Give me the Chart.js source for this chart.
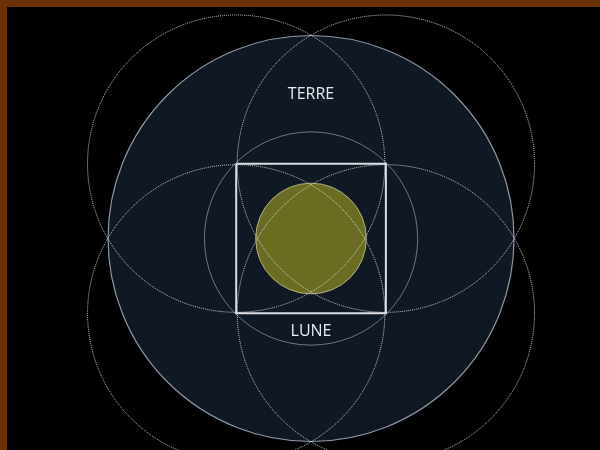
<!DOCTYPE html>
<html>
<head>
<meta charset="utf-8">
<script src="https://cdn.jsdelivr.net/npm/chart.js@4/dist/chart.umd.min.js"></script>
<style>
  html, body { margin: 0; padding: 0; background: #6b3305; overflow: hidden; }
  #wrap { position: absolute; left: 7px; top: 7px; width: 593px; height: 443px; background: #000; }
</style>
</head>
<body>
<div id="wrap"><canvas id="chart"></canvas></div>
<script>
(function () {
    'use strict';

    // radii in miles: Earth, Moon
    var bodyLabels = ['TERRE', 'LUNE'];
    var bodyRadii  = [3960, 1080];
    var labelY     = [2820, -1810];

    // square around the Moon and its circumscribed circle
    var squareX = [-1460, 1460, 1460, -1460, -1460];
    var squareY = [1460, 1460, -1460, -1460, 1460];
    var ringRadius = 2080;

    // four dotted circles centred on the square's corners
    var cornerX = [-1460, 1460, -1460, 1460];
    var cornerY = [1460, 1460, -1460, -1460];
    var cornerRadius = 2900;

    function pxRadius(ctx) {
        var s = ctx.chart.scales.x;
        var r = ctx.raw && ctx.raw.rad;
        if (!s || !r) return 0;
        return Math.abs(s.getPixelForValue(r) - s.getPixelForValue(0));
    }

    var dashPlugin = {
        id: 'dash',
        beforeDatasetDraw: function (chart, args) {
            var ds = chart.data.datasets[args.index];
            chart.ctx.save();
            chart.ctx.setLineDash(ds.dash || []);
        },
        afterDatasetDraw: function (chart) {
            chart.ctx.restore();
        }
    };

    var labelPlugin = {
        id: 'bodyLabels',
        afterDatasetsDraw: function (chart) {
            var c = chart.ctx, sx = chart.scales.x, sy = chart.scales.y;
            c.save();
            c.fillStyle = '#e8ecf2';
            c.font = '16px "Open Sans", "Noto Sans", sans-serif';
            c.textAlign = 'center';
            c.textBaseline = 'middle';
            bodyLabels.forEach(function (t, i) {
                c.fillText(t, sx.getPixelForValue(0), sy.getPixelForValue(labelY[i]));
            });
            c.restore();
        }
    };

    var corners = cornerX.map(function (x, i) { return { x: x, y: cornerY[i], rad: cornerRadius }; });

    new Chart(document.getElementById('chart'), {
        type: 'scatter',
        data: {
            datasets: [
                {
                    label: bodyLabels[0],
                    order: 5,
                    data: [{ x: 0, y: 0, rad: bodyRadii[0] }],
                    backgroundColor: '#101824',
                    borderColor: 'rgba(175, 185, 200, 0.8)',
                    borderWidth: 1.2,
                    pointRadius: pxRadius,
                    pointHoverRadius: pxRadius,
                    clip: false
                },
                {
                    label: 'ring',
                    order: 4,
                    data: [{ x: 0, y: 0, rad: ringRadius }],
                    backgroundColor: 'rgba(0,0,0,0)',
                    borderColor: 'rgba(170, 180, 195, 0.6)',
                    borderWidth: 1,
                    pointRadius: pxRadius,
                    pointHoverRadius: pxRadius,
                    clip: false
                },
                {
                    label: bodyLabels[1],
                    order: 3,
                    data: [{ x: 0, y: 0, rad: bodyRadii[1] }],
                    backgroundColor: '#6a6c21',
                    borderColor: 'rgba(200, 200, 150, 0.8)',
                    borderWidth: 1,
                    pointRadius: pxRadius,
                    pointHoverRadius: pxRadius,
                    clip: false
                },
                {
                    label: 'square',
                    order: 2,
                    data: squareX.map(function (x, i) { return { x: x, y: squareY[i] }; }),
                    showLine: true,
                    borderColor: '#dcdde2',
                    borderWidth: 2,
                    pointRadius: 0,
                    clip: false
                },
                {
                    label: 'corners',
                    order: 1,
                    data: corners,
                    backgroundColor: 'rgba(0,0,0,0)',
                    borderColor: 'rgba(235, 238, 242, 0.85)',
                    borderWidth: 1,
                    dash: [1, 1],
                    pointRadius: pxRadius,
                    pointHoverRadius: pxRadius,
                    clip: false
                }
            ]
        },
        options: {
            responsive: true,
            maintainAspectRatio: false,
            animation: false,
            events: [],
            layout: { padding: 0 },
            plugins: { legend: { display: false }, tooltip: { enabled: false } },
            scales: {
                x: { display: false, min: -5931, max: 5637 },
                y: { display: false, min: -4126, max: 4516 }
            }
        },
        plugins: [dashPlugin, labelPlugin]
    });
})();
</script>
</body>
</html>
